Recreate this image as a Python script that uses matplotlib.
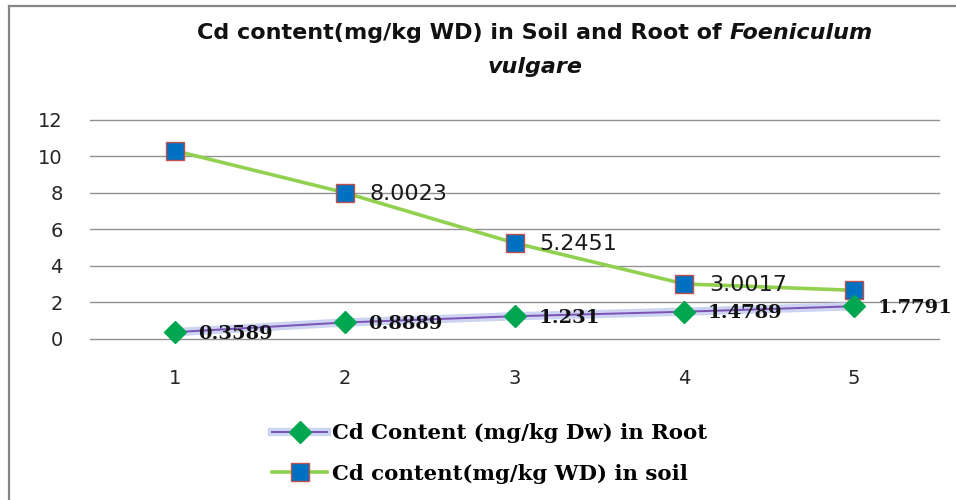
import matplotlib
matplotlib.use("Agg")
import matplotlib.pyplot as plt
from matplotlib.lines import Line2D

categories = [1, 2, 3, 4, 5]
root_values = [0.3589, 0.8889, 1.231, 1.4789, 1.7791]
soil_values = [10.3, 8.0023, 5.2451, 3.0017, 2.65]
root_labels = ["0.3589", "0.8889", "1.231", "1.4789", "1.7791"]
soil_labels = ["", "8.0023", "5.2451", "3.0017", ""]
yticks = [0, 2, 4, 6, 8, 10, 12]
root_name = "Cd Content (mg/kg Dw) in Root"
soil_name = "Cd content(mg/kg WD) in soil"

W, H = 956, 500
fig = plt.figure(figsize=(W / 100, H / 100), dpi=100)
ax = fig.add_axes([90 / W, 1 - 338.7 / H, (939 - 90) / W, (338.7 - 119.7) / H])

# frame border (top and left visible)
fig.add_artist(Line2D([9 / W, 1.0], [1 - 6 / H, 1 - 6 / H], transform=fig.transFigure,
                      color="#868686", lw=1.6))
fig.add_artist(Line2D([9 / W, 9 / W], [0, 1 - 6 / H], transform=fig.transFigure,
                      color="#868686", lw=1.6))

# gridlines
for y in yticks:
    ax.axhline(y, color="#929292", lw=1.0, zorder=0, clip_on=False)

# root series (purple line with lavender glow)
ax.plot(categories, root_values, color="#cdd4f2", lw=6, solid_capstyle="butt", zorder=2)
ax.plot(categories, root_values, color="#7b52b5", lw=1.4, zorder=3)
ax.plot(categories, root_values, ls="none", marker="D", markersize=11,
        markerfacecolor="#00a650", markeredgecolor="#00a650", zorder=5, clip_on=False)

# soil series
ax.plot(categories, soil_values, color="#92d050", lw=2.6, zorder=3,
        marker="s", markersize=13.5, markerfacecolor="#0070c0",
        markeredgecolor="#c0504d", markeredgewidth=1.0)

for x, v, lab in zip(categories, soil_values, soil_labels):
    if lab:
        ax.annotate(lab, (x, v), xytext=(18, -1), textcoords="offset points",
                    ha="left", va="center", fontsize=16, family="DejaVu Sans",
                    color="#1a1a1a", zorder=6)
for x, v, lab in zip(categories, root_values, root_labels):
    ax.annotate(lab, (x, v), xytext=(17, -1), textcoords="offset points",
                ha="left", va="center", fontsize=14, family="DejaVu Serif",
                weight="bold", color="#111111", zorder=6)

ax.set_xlim(0.5, 5.5)
ax.set_ylim(0, 12)
ax.set_yticks(yticks)
ax.set_xticks(categories)
ax.set_yticklabels([str(t) for t in yticks], family="DejaVu Sans", fontsize=14, color="#262626")
ax.set_xticklabels([str(c) for c in categories], family="DejaVu Sans", fontsize=14, color="#262626")
ax.tick_params(length=0)
ax.tick_params(axis="y", pad=19.5)
ax.tick_params(axis="x", pad=22)
for s in ax.spines.values():
    s.set_visible(False)

# title with italic species name
fig.canvas.draw()
r = fig.canvas.get_renderer()
tfs = 16
t1 = fig.text(0, 1 - 33 / H, "Cd content(mg/kg WD) in Soil and Root of ", family="DejaVu Sans",
              weight="bold", fontsize=tfs, ha="left", va="center", color="#111111")
t2 = fig.text(0, 1 - 33 / H, "Foeniculum", family="DejaVu Sans", weight="bold", style="italic",
              fontsize=tfs, ha="left", va="center", color="#111111")
w1 = t1.get_window_extent(r).width
w2 = t2.get_window_extent(r).width
cx = 535
x0 = cx - (w1 + w2) / 2
t1.set_x(x0 / W)
t2.set_x((x0 + w1) / W)
fig.text(cx / W, 1 - 67 / H, "vulgare", family="DejaVu Sans", weight="bold", style="italic",
         fontsize=tfs, ha="center", va="center", color="#111111")

# legend
h_root = [Line2D([], [], color="#cdd4f2", lw=6),
          Line2D([], [], color="#7b52b5", lw=1.4, marker="D", markersize=11,
                 markerfacecolor="#00a650", markeredgecolor="#00a650")]
h_soil = Line2D([], [], color="#92d050", lw=2.6, marker="s", markersize=13.5,
                markerfacecolor="#0070c0", markeredgecolor="#c0504d")
leg = fig.legend([tuple(h_root), h_soil], [root_name, soil_name],
                 loc="center left", bbox_to_anchor=(272 / W, 1 - 453.5 / H),
                 frameon=False, borderpad=0, borderaxespad=0, handlelength=2.6,
                 handletextpad=0.2, labelspacing=0.95,
                 prop={"family": "DejaVu Serif", "weight": "bold", "size": 15.3})

fig.savefig("out.png", dpi=100)
